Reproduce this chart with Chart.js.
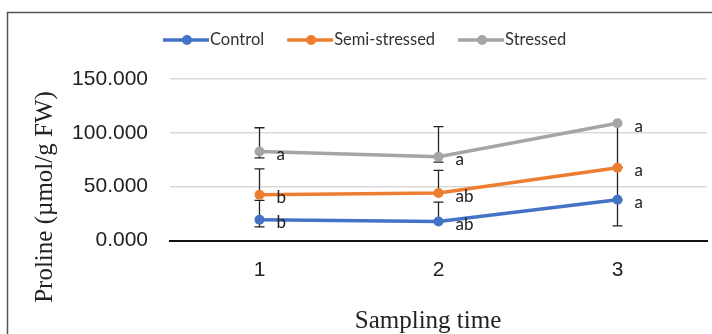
<!DOCTYPE html>
<html>
<head>
<meta charset="utf-8">
<script src="https://cdn.jsdelivr.net/npm/chart.js@4"></script>
<style>
  html, body { margin: 0; padding: 0; background: #fff; }
  #wrap { width: 712px; height: 334px; position: relative; }
</style>
</head>
<body>
<div id="wrap"><canvas id="chart" width="712" height="334"></canvas></div>
<script>
// sampling times and series
const samplingTimes = ['1', '2', '3'];
const seriesNames = ['Control', 'Semi-stressed', 'Stressed'];
const controlValues = [19.2, 17.6, 37.9];
const semiValues = [42.5, 44.1, 67.5];
const stressedValues = [82.7, 77.8, 108.9];

// error bars (up / down), 0 = not drawn
const controlErrUp = [18, 18, 0];
const controlErrDown = [6.6, 0, 24.3];
const semiErrUp = [24, 21, 0];
const semiErrDown = [0, 0, 30];
const stressedErrUp = [22, 28, 0];
const stressedErrDown = [6, 5, 41];

// significance letters
const controlLetters = ['b', 'ab', 'a'];
const semiLetters = ['b', 'ab', 'a'];
const stressedLetters = ['a', 'a', 'a'];

const yTicks = [0, 50, 100, 150];
const xTitle = 'Sampling time';
const yTitle = 'Proline (µmol/g FW)';

const colors = ['#4472C4', '#ED7D31', '#A5A5A5'];

function makeSet(label, data, color, up, down, letters) {
    return {
        label: label,
        data: data,
        borderColor: color,
        backgroundColor: color,
        borderWidth: 3.5,
        pointRadius: 5,
        pointBorderWidth: 0,
        pointBackgroundColor: color,
        tension: 0,
        errUp: up,
        errDown: down,
        letters: letters
    };
}

// error bars drawn under the lines
const errorBars = {
    id: 'errorBars',
    beforeDatasetsDraw(chart) {
        const ctx = chart.ctx;
        const y = chart.scales.y;
        ctx.save();
        ctx.strokeStyle = '#222';
        ctx.lineWidth = 1.3;
        chart.data.datasets.forEach((ds, di) => {
            const meta = chart.getDatasetMeta(di);
            meta.data.forEach((pt, i) => {
                const v = ds.data[i];
                const ends = [];
                if (ds.errUp[i] > 0) ends.push(v + ds.errUp[i]);
                if (ds.errDown[i] > 0) ends.push(v - ds.errDown[i]);
                ends.forEach(e => {
                    const py = y.getPixelForValue(e);
                    ctx.beginPath();
                    ctx.moveTo(pt.x, pt.y);
                    ctx.lineTo(pt.x, py);
                    ctx.moveTo(pt.x - 5, py);
                    ctx.lineTo(pt.x + 5, py);
                    ctx.stroke();
                });
            });
        });
        ctx.restore();
    }
};

// letters next to the points, legend, axis titles and frame
const extras = {
    id: 'extras',
    afterDraw(chart) {
        const ctx = chart.ctx;
        ctx.save();
        ctx.font = '17px Lato';
        ctx.fillStyle = '#222';
        ctx.textBaseline = 'middle';
        ctx.textAlign = 'left';
        chart.data.datasets.forEach((ds, di) => {
            const meta = chart.getDatasetMeta(di);
            meta.data.forEach((pt, i) => {
                ctx.fillText(ds.letters[i], pt.x + 17, pt.y + 3);
            });
        });

        // legend
        ctx.font = '16.5px Lato';
        let x = 163;
        const ly = 40;
        chart.data.datasets.forEach((ds, di) => {
            ctx.strokeStyle = colors[di];
            ctx.lineWidth = 3.5;
            ctx.beginPath();
            ctx.moveTo(x, ly);
            ctx.lineTo(x + 46, ly);
            ctx.stroke();
            ctx.fillStyle = colors[di];
            ctx.beginPath();
            ctx.arc(x + 24, ly, 5, 0, Math.PI * 2);
            ctx.fill();
            ctx.fillStyle = '#333';
            ctx.fillText(ds.label, x + 47, ly);
            x += 47 + ctx.measureText(ds.label).width + 23;
        });

        // axis titles
        ctx.fillStyle = '#222';
        ctx.font = '25px "Liberation Serif"';
        ctx.textAlign = 'center';
        ctx.textBaseline = 'alphabetic';
        ctx.fillText(xTitle, 428, 328);
        ctx.save();
        ctx.translate(52, 197);
        ctx.rotate(-Math.PI / 2);
        ctx.fillText(yTitle, 0, 0);
        ctx.restore();

        // outer frame
        ctx.strokeStyle = '#555';
        ctx.lineWidth = 1.5;
        ctx.beginPath();
        ctx.moveTo(7.5, 340);
        ctx.lineTo(7.5, 12.5);
        ctx.lineTo(720, 12.5);
        ctx.stroke();
        ctx.restore();
    }
};

new Chart(document.getElementById('chart'), {
    type: 'line',
    data: {
        labels: samplingTimes,
        datasets: [
            makeSet(seriesNames[0], controlValues, colors[0], controlErrUp, controlErrDown, controlLetters),
            makeSet(seriesNames[1], semiValues, colors[1], semiErrUp, semiErrDown, semiLetters),
            makeSet(seriesNames[2], stressedValues, colors[2], stressedErrUp, stressedErrDown, stressedLetters)
        ]
    },
    options: {
        responsive: false,
        animation: false,
        layout: { padding: { top: 79, right: 0, left: 0, bottom: 0 } },
        plugins: {
            legend: { display: false },
            tooltip: { enabled: false }
        },
        scales: {
            x: {
                offset: true,
                grid: { display: false, drawTicks: false },
                border: { display: true, color: '#111', width: 2 },
                ticks: { color: '#222', font: { family: 'Liberation Sans', size: 21 }, padding: 17 },
                afterFit(scale) { scale.height = 93.5; }
            },
            y: {
                min: 0,
                max: 150,
                afterBuildTicks(scale) { scale.ticks = yTicks.map(v => ({ value: v })); },
                grid: { color: '#d9d9d9', lineWidth: 1.5, drawTicks: false },
                border: { display: false },
                ticks: {
                    color: '#222',
                    font: { family: 'Liberation Sans', size: 21 },
                    padding: 22,
                    callback: v => v.toFixed(3)
                },
                afterFit(scale) { scale.width = 170; }
            }
        }
    },
    plugins: [errorBars, extras]
});
</script>
</body>
</html>
